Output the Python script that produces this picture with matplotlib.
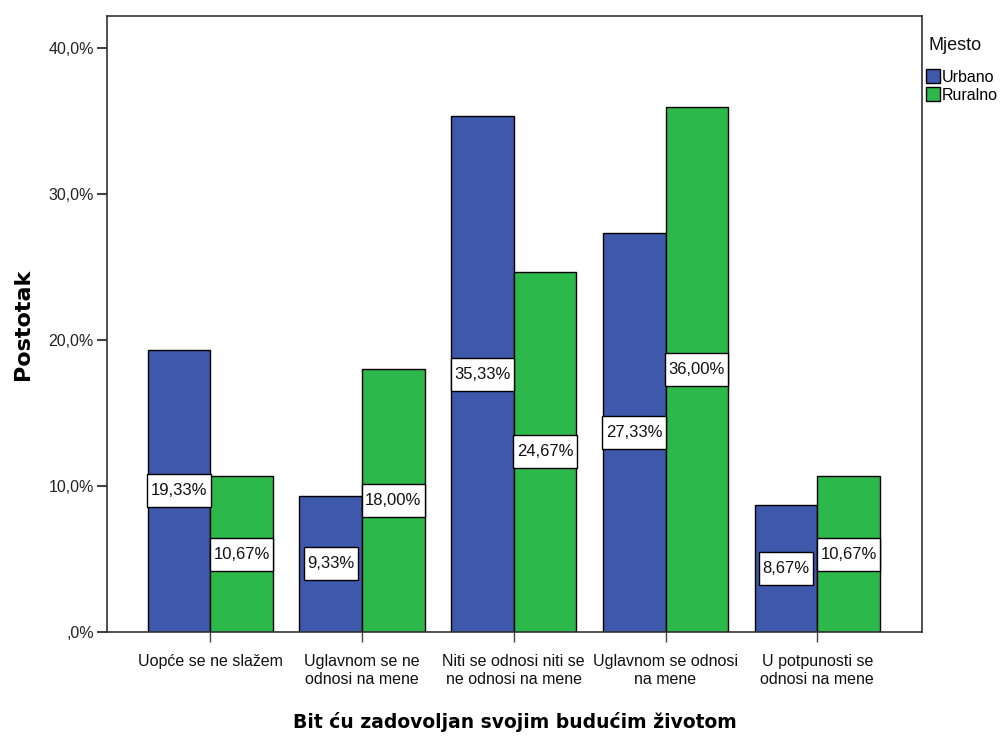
import matplotlib
matplotlib.use("Agg")
import matplotlib.pyplot as plt
from matplotlib import font_manager
from matplotlib.patches import Rectangle
import numpy as np

categories = ["Uopće se ne slažem", "Uglavnom se ne\nodnosi na mene",
              "Niti se odnosi niti se\nne odnosi na mene", "Uglavnom se odnosi\nna mene",
              "U potpunosti se\nodnosi na mene"]
urbano = [19.33, 9.33, 35.33, 27.33, 8.67]
ruralno = [10.67, 18.00, 24.67, 36.00, 10.67]
series_names = ["Urbano", "Ruralno"]
yticks = [0, 10, 20, 30, 40]
ytick_labels = [",0%", "10,0%", "20,0%", "30,0%", "40,0%"]

names = {f.name for f in font_manager.fontManager.ttflist}
narrow = "Liberation Sans Narrow" if "Liberation Sans Narrow" in names else "Liberation Sans"

blue = "#3E58AB"
green = "#2DB84B"

fig = plt.figure(figsize=(10.02, 7.36), dpi=100)
ax = fig.add_axes([107/1002, (736-632)/736, (922-107)/1002, (632-16)/736])

x = np.arange(len(categories))
w = 0.412
b1 = ax.bar(x - w/2, urbano, w, color=blue, edgecolor="black", linewidth=1.0, label=series_names[0])
b2 = ax.bar(x + w/2, ruralno, w, color=green, edgecolor="black", linewidth=1.0, label=series_names[1])

ax.set_xlim(-0.68, 4.69)
ax.set_ylim(0, 42.2)

labels = []
for bars, vals in ((b1, urbano), (b2, ruralno)):
    for r, v in zip(bars, vals):
        t = ax.text(r.get_x() + r.get_width()/2, v/2, f"{v:.2f}%".replace(".", ","),
                    ha="center", va="center", fontsize=12, family=narrow, color="#111111", zorder=5)
        labels.append(t)

ax.set_yticks(yticks)
ax.set_yticklabels(ytick_labels, family=narrow, fontsize=11.5, color="#222222")
ax.set_xticks(x)
ax.set_xticklabels(categories, family=narrow, fontsize=11.5, color="#111111", linespacing=1.2)
ax.tick_params(axis="y", length=7.5, width=1.5, color="#444444", pad=2)
ax.tick_params(axis="x", length=7, width=1.0, color="#444444", pad=9)
for s in ax.spines.values():
    s.set_color("#333333")
    s.set_linewidth(1.2)

ax.set_ylabel("Postotak", fontsize=16, fontweight="bold", family="DejaVu Sans", labelpad=11)
ax.set_xlabel("Bit ću zadovoljan svojim budućim životom", fontsize=13.5, fontweight="bold",
              family="DejaVu Sans", labelpad=18)

fig.text(955/1002, 1 - 45/736, "Mjesto", ha="center", va="center", family=narrow, fontsize=13, color="#111111")
leg = ax.legend(loc="upper left", bbox_to_anchor=(926/1002, 1 - 69/736), bbox_transform=fig.transFigure,
                frameon=False, prop={"family": narrow, "size": 11.5}, handlelength=0.85, handleheight=1.0,
                handletextpad=0.15, borderpad=0.0, labelspacing=0.15, borderaxespad=0.0)

# draw label boxes (wider vertical padding than horizontal)
fig.canvas.draw()
renderer = fig.canvas.get_renderer()
inv = ax.transData.inverted()
for t in labels:
    bb = t.get_window_extent(renderer)
    cx, cy = (bb.x0 + bb.x1) / 2, (bb.y0 + bb.y1) / 2
    hw = bb.width / 2 + 3.5
    hh = 16.5
    (x0, y0) = inv.transform((cx - hw, cy - hh))
    (x1, y1) = inv.transform((cx + hw, cy + hh))
    ax.add_patch(Rectangle((x0, y0), x1 - x0, y1 - y0, facecolor="white", edgecolor="black",
                           linewidth=1.0, zorder=4))

fig.savefig("out.png", dpi=100, facecolor="white")
